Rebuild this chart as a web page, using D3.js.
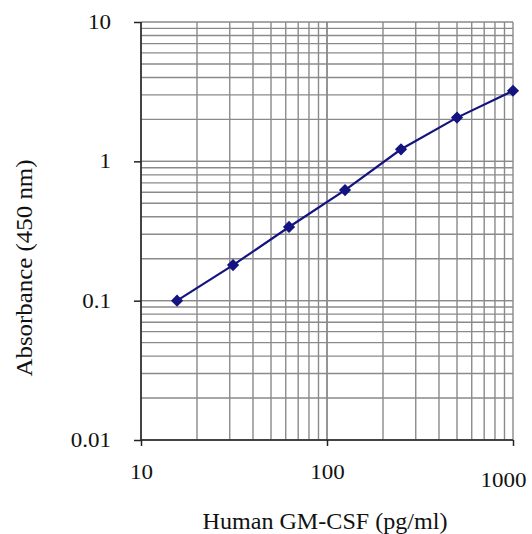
<!DOCTYPE html>
<html><head><meta charset="utf-8">
<script src="https://cdn.jsdelivr.net/npm/d3@7"></script>
<style>body{margin:0;background:#fff}</style>
</head><body>
<svg id="c" width="532" height="534"></svg>
<script>
const concentrations = [15.625, 31.25, 62.5, 125, 250, 500, 1000];
const absorbance = [0.100, 0.180, 0.338, 0.622, 1.22, 2.06, 3.21];
const xTicks = [10, 100, 1000];
const yTicks = [0.01, 0.1, 1, 10];
const xTitle = "Human GM-CSF (pg/ml)";
const yTitle = "Absorbance (450 nm)";

const svg = d3.select("#c");
const L = 141, R = 513, T = 22, B = 440;
const x = d3.scaleLog().domain([10, 1000]).range([L, R]);
const y = d3.scaleLog().domain([0.01, 10]).range([B, T]);
const font = "'Liberation Serif','Times New Roman',serif";

const xGrid = [], yGrid = [];
for (let d = 10; d < 1000; d *= 10) for (let k = 1; k <= 10; k++) xGrid.push(d * k);
for (let d = 0.01; d < 10; d *= 10) for (let k = 1; k <= 10; k++) yGrid.push(+(d * k).toPrecision(3));

const g = svg.append("g");
g.selectAll("line.vx").data(xGrid).join("line")
  .attr("x1", d => x(d)).attr("x2", d => x(d)).attr("y1", T).attr("y2", B)
  .attr("stroke", "#8a8a8a").attr("stroke-width", 1.4);
g.selectAll("line.hy").data(yGrid).join("line")
  .attr("y1", d => y(d)).attr("y2", d => y(d)).attr("x1", L).attr("x2", R)
  .attr("stroke", "#8a8a8a").attr("stroke-width", 1.4);

const xAxis = d3.axisBottom(x).tickValues(xTicks).tickFormat(d3.format("d")).tickSize(6).tickPadding(19);
const yAxis = d3.axisLeft(y).tickValues(yTicks).tickFormat(d => d >= 1 ? d3.format("d")(d) : String(d)).tickSize(7).tickPadding(23);
const gx = svg.append("g").attr("transform", `translate(0,${B})`).call(xAxis);
const gy = svg.append("g").attr("transform", `translate(${L},0)`).call(yAxis);
[gx, gy].forEach(a => {
  a.select(".domain").attr("stroke", "#222").attr("stroke-width", 1.5);
  a.selectAll(".tick line").attr("stroke", "#222").attr("stroke-width", 1.5);
  a.selectAll("text").attr("font-family", font).attr("font-size", 20).attr("fill", "#111")
    .each(function () {
      const w = this.getComputedTextLength();
      d3.select(this).attr("textLength", w * 1.15).attr("lengthAdjust", "spacingAndGlyphs");
    });
});
gx.select(".domain").attr("d", `M${L},0H${R}`);
gy.select(".domain").attr("d", `M0,${B}V${T}`);
gx.selectAll(".tick text").filter(d => d === 1000).attr("dx", -10).attr("dy", "1.1em");

const pts = concentrations.map((c, i) => [c, absorbance[i]]);
svg.append("path").datum(pts)
  .attr("d", d3.line().x(d => x(d[0])).y(d => y(d[1])))
  .attr("fill", "none").attr("stroke", "#141480").attr("stroke-width", 2.2);
svg.selectAll("path.m").data(pts).join("path").attr("class", "m")
  .attr("transform", d => `translate(${x(d[0])},${y(d[1])})`)
  .attr("d", d3.symbol().type(d3.symbolDiamond2).size(95))
  .attr("fill", "#141480");

svg.append("text").attr("x", 325).attr("y", 529).attr("text-anchor", "middle")
  .attr("font-family", font).attr("font-size", 23).attr("fill", "#111")
  .attr("textLength", 245).attr("lengthAdjust", "spacingAndGlyphs").text(xTitle);
svg.append("text").attr("transform", "translate(32,268) rotate(-90)").attr("text-anchor", "middle")
  .attr("font-family", font).attr("font-size", 23).attr("fill", "#111")
  .attr("textLength", 217).attr("lengthAdjust", "spacingAndGlyphs").text(yTitle);
</script>
</body></html>
